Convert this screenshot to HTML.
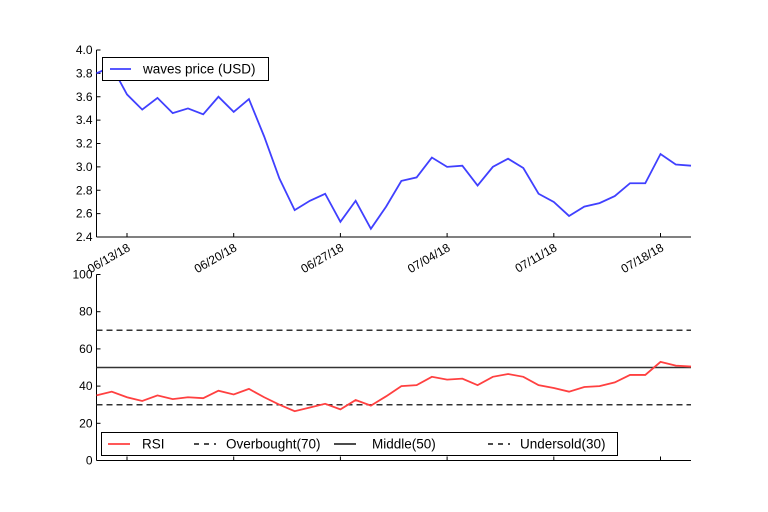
<!DOCTYPE html>
<html><head><meta charset="utf-8"><style>
body{margin:0;background:#fff}
svg{display:block;font-family:"Liberation Sans","DejaVu Sans",sans-serif}
</style></head><body>
<svg id="chart" width="768" height="512" viewBox="0 0 768 512">
<rect width="768" height="512" fill="#fff"/>
<g id="gtop"></g>
<g id="gbot"></g>
</svg>
<script>
const dates = ["06/11","06/12","06/13","06/14","06/15","06/16","06/17","06/18","06/19","06/20","06/21","06/22","06/23","06/24","06/25","06/26","06/27","06/28","06/29","06/30","07/01","07/02","07/03","07/04","07/05","07/06","07/07","07/08","07/09","07/10","07/11","07/12","07/13","07/14","07/15","07/16","07/17","07/18","07/19","07/20"];
const price = [3.80,3.86,3.62,3.49,3.59,3.46,3.50,3.45,3.60,3.47,3.58,3.26,2.90,2.63,2.71,2.77,2.53,2.71,2.47,2.66,2.88,2.91,3.08,3.00,3.01,2.84,3.00,3.07,2.99,2.77,2.70,2.58,2.66,2.69,2.75,2.86,2.86,3.11,3.02,3.01];
const rsi = [35,37,34,32,35,33,34,33.5,37.5,35.5,38.5,34,30,26.5,28.5,30.5,27.5,32.5,29.5,34.5,40,40.5,45,43.5,44,40.5,45,46.5,45,40.5,39,37,39.5,40,42,46,46,53,51,50.5];
const priceTicks = [2.4,2.6,2.8,3.0,3.2,3.4,3.6,3.8,4.0];
const rsiTicks = [0,20,40,60,80,100];
const xTickLabels = ["06/13/18","06/20/18","06/27/18","07/04/18","07/11/18","07/18/18"];
const xTickIdx = [2,9,16,23,30,37];
const levels = [70,50,30];

const NS="http://www.w3.org/2000/svg";
const X0=96.5,X1=691;
const x=i=>X0+(X1-X0)*i/(dates.length-1);
const yP=v=>237-(v-2.4)/(4.0-2.4)*187;
const yR=v=>460.5-v/100*186;
function mk(p,t,a){const e=document.createElementNS(NS,t);for(const k in a)e.setAttribute(k,a[k]);p.appendChild(e);return e;}
const gTop=document.getElementById('gtop'),gBot=document.getElementById('gbot');

function axes(g,y0,y1,ticks,yf,fmt,nm){
  let l=mk(g,'line',{x1:X0,y1:y0,x2:X0,y2:y1,stroke:'#000','stroke-width':1});
  
  
  let b=mk(g,'line',{x1:X0,y1:y1,x2:X1,y2:y1,stroke:'#000','stroke-width':1});
  
  
  ticks.forEach(v=>{
    const yy=yf(v);
    mk(g,'line',{x1:X0,y1:yy,x2:X0+4,y2:yy,stroke:'#000'});
    const t=mk(g,'text',{x:X0-4,y:yy+4,'font-size':12,'text-anchor':'end',fill:'#000'});
    t.textContent=fmt(v);
    
    
  });
}
axes(gTop,50,237,priceTicks,yP,v=>v.toFixed(1),'price');
axes(gBot,274.5,460.5,rsiTicks,yR,v=>String(v),'rsi');
xTickIdx.forEach((i,k)=>{
  const xx=x(i);
  mk(gTop,'line',{x1:xx,y1:237,x2:xx,y2:233,stroke:'#000'});
  mk(gBot,'line',{x1:xx,y1:460.5,x2:xx,y2:456.5,stroke:'#000'});
  const t=mk(gTop,'text',{x:xx+4,y:250,'font-size':12,'text-anchor':'end',fill:'#000',transform:`rotate(-30 ${xx+4} 250)`});
  t.textContent=xTickLabels[k];
  
  
});
const pl=mk(gTop,'polyline',{points:price.map((v,i)=>x(i)+','+yP(v)).join(' '),fill:'none',stroke:'#4040ff','stroke-width':1.8});


levels.forEach(v=>{
  const ln=mk(gBot,'line',{x1:X0,y1:yR(v),x2:X1,y2:yR(v),stroke:'#333','stroke-width':1.5});
  if(v!==50)ln.setAttribute('stroke-dasharray','6,4');
  
  
});
const rl=mk(gBot,'polyline',{points:rsi.map((v,i)=>x(i)+','+yR(v)).join(' '),fill:'none',stroke:'#ff4040','stroke-width':1.8});



const lg1=mk(gTop,'g',{});


mk(lg1,'rect',{x:102.5,y:57.5,width:166,height:23,fill:'#fff',stroke:'#000'});
mk(lg1,'line',{x1:110,y1:69,x2:131,y2:69,stroke:'#4040ff','stroke-width':1.8});
const lt=mk(lg1,'text',{x:143,y:73.5,'font-size':13.5});lt.textContent='waves price (USD)';
const lg2=mk(gBot,'g',{});


mk(lg2,'rect',{x:101.5,y:432.5,width:516,height:23,fill:'#fff',stroke:'#000'});
const ent=[108,194,334,488];
const labs=['RSI','Overbought(70)','Middle(50)','Undersold(30)'];
const cols=['#ff4040','#333','#333','#333'];
const dash=[null,'6,4',null,'6,4'];
labs.forEach((s,k)=>{
  const a=ent[k];
  const l=mk(lg2,'line',{x1:a,y1:444,x2:a+22,y2:444,stroke:cols[k],'stroke-width':1.8});
  if(dash[k])l.setAttribute('stroke-dasharray','5,5');
  const t=mk(lg2,'text',{x:[142,226,372,520][k],y:448.5,'font-size':13.5});
  t.textContent=s;
  
  
});
</script>
</body></html>
